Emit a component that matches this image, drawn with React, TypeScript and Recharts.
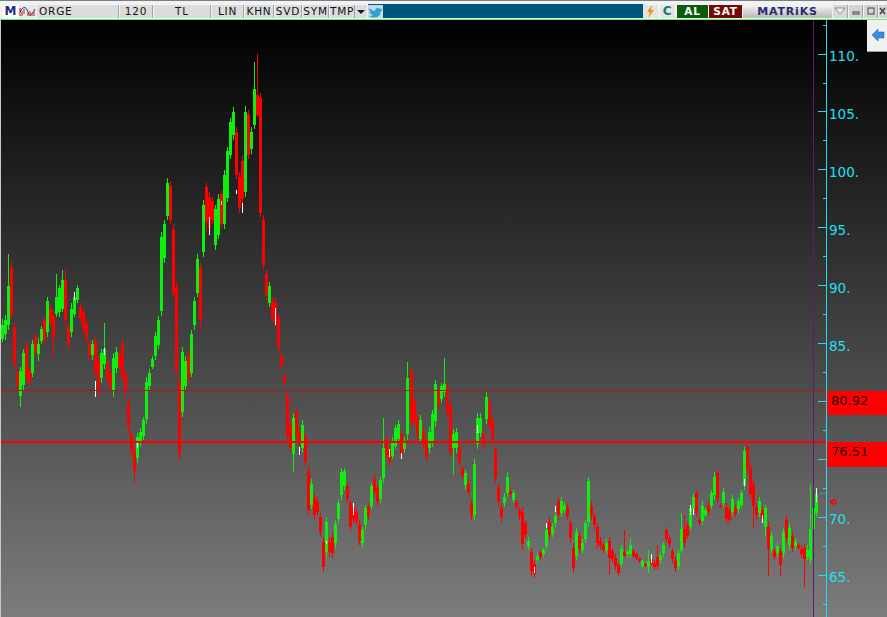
import React from 'react';
import { ComposedChart, Bar, Cell, XAxis, YAxis, ReferenceLine } from 'recharts';

// values, one entry per column of the price chart
const highs = [
  87.1, 87.5, 92.7, 92.3, 86.8, 82.8, 83.0, 84.5, 85.1, 83.0,
  85.3, 85.9, 85.5, 86.5, 87.4, 89.0, 88.4, 87.9, 91.0, 90.1,
  91.4, 91.4, 86.8, 88.5, 89.4, 90.1, 88.5, 88.1, 87.1, 85.3,
  85.3, 85.6, 83.9, 84.5, 86.8, 83.6, 82.8, 84.2, 84.7, 84.2,
  85.5, 82.8, 80.4, 77.6, 76.1, 77.3, 77.7, 78.7, 82.1, 82.8,
  83.9, 86.0, 87.4, 94.6, 95.7, 99.3, 99.0, 95.3, 90.3, 82.1,
  84.7, 83.9, 84.5, 86.2, 89.0, 92.7, 92.0, 97.4, 98.9, 98.1,
  97.7, 97.0, 97.9, 98.3, 100.0, 102.0, 104.5, 105.4, 103.7, 99.8,
  101.2, 105.5, 105.2, 103.7, 109.3, 110.0, 106.6, 96.1, 91.4, 90.3,
  89.0, 88.9, 87.6, 84.2, 82.5, 81.0, 78.4, 79.0, 79.5, 77.8,
  78.4, 77.3, 74.4, 73.3, 72.1, 71.8, 70.4, 68.3, 70.0, 68.3,
  68.7, 69.8, 71.5, 74.3, 74.3, 73.0, 71.5, 71.2, 70.8, 69.8,
  69.2, 71.1, 71.2, 73.0, 73.7, 72.8, 73.5, 78.6, 77.1, 76.1,
  76.9, 78.0, 78.4, 77.6, 76.9, 83.4, 83.0, 80.4, 79.0, 78.8,
  77.8, 76.9, 77.8, 79.3, 81.9, 81.3, 81.6, 83.8, 81.6, 79.9,
  77.6, 77.7, 76.4, 74.5, 74.1, 73.3, 71.5, 75.0, 79.0, 79.0,
  77.6, 80.8, 80.4, 78.7, 76.2, 73.0, 71.2, 72.1, 73.9, 72.6,
  72.4, 71.5, 70.9, 70.9, 69.8, 68.3, 67.4, 66.3, 66.9, 67.2,
  67.4, 69.2, 70.0, 69.5, 70.4, 71.8, 71.8, 71.2, 71.2, 69.8,
  67.8, 69.1, 68.7, 68.1, 69.8, 73.5, 71.4, 70.4, 69.5, 68.3,
  67.8, 68.1, 68.3, 67.4, 66.8, 66.1, 67.6, 68.9, 67.2, 68.1,
  67.3, 67.0, 66.6, 66.3, 66.1, 67.2, 66.8, 66.3, 67.6, 66.9,
  67.9, 69.2, 68.5, 67.4, 66.6, 67.2, 70.4, 70.2, 69.6, 71.1,
  72.1, 72.4, 70.0, 71.4, 70.8, 71.4, 72.4, 73.9, 74.1, 71.2,
  72.5, 71.2, 70.9, 71.9, 71.1, 71.7, 72.4, 76.1, 76.4, 74.7,
  73.3, 71.2, 71.8, 70.9, 71.1, 69.6, 68.7, 67.4, 67.8, 67.4,
  69.1, 70.2, 69.5, 68.7, 68.2, 67.8, 67.6, 67.8, 67.6, 72.8,
  71.1, 72.5,
];
const lows = [
  85.1, 85.3, 86.2, 87.1, 82.8, 80.8, 79.5, 81.0, 81.6, 81.3,
  82.1, 83.9, 83.5, 85.0, 85.0, 85.6, 86.5, 83.8, 87.3, 87.3,
  87.7, 86.5, 84.5, 85.6, 87.3, 88.5, 86.8, 85.9, 85.1, 83.6,
  83.6, 82.1, 80.4, 81.6, 82.8, 81.6, 80.8, 80.4, 82.5, 82.8,
  81.6, 80.4, 77.3, 75.2, 73.0, 74.7, 76.1, 76.7, 78.1, 81.0,
  82.8, 83.6, 84.5, 87.4, 92.0, 95.7, 95.3, 89.0, 82.1, 74.9,
  78.7, 81.0, 81.4, 82.1, 86.2, 89.0, 86.2, 92.5, 94.6, 94.6,
  95.3, 93.1, 94.0, 94.9, 94.9, 97.2, 100.9, 102.6, 99.2, 96.3,
  96.3, 97.7, 100.9, 101.4, 103.5, 104.6, 95.9, 91.4, 88.8, 88.2,
  86.8, 86.5, 84.2, 82.8, 81.3, 76.7, 75.6, 73.9, 76.7, 76.1,
  75.6, 74.4, 70.2, 70.7, 69.8, 70.1, 68.3, 65.3, 66.6, 66.6,
  66.5, 67.4, 69.5, 71.5, 72.4, 71.2, 68.8, 69.5, 69.3, 67.6,
  67.4, 68.9, 69.8, 70.7, 71.8, 70.9, 71.2, 73.0, 75.0, 74.4,
  75.0, 75.9, 76.4, 75.0, 75.6, 76.7, 77.8, 77.8, 76.7, 76.4,
  75.9, 74.8, 75.6, 76.1, 77.8, 79.3, 79.9, 80.4, 78.7, 75.2,
  73.7, 75.6, 74.4, 73.3, 72.4, 71.8, 69.8, 69.8, 75.9, 76.9,
  75.9, 78.1, 77.6, 76.4, 73.0, 70.9, 69.6, 70.9, 71.8, 71.8,
  71.2, 70.7, 69.8, 67.2, 68.1, 67.2, 64.9, 64.8, 66.1, 66.3,
  66.6, 67.2, 68.1, 68.3, 69.2, 69.8, 70.0, 70.4, 69.8, 67.8,
  65.2, 66.3, 66.9, 66.9, 67.8, 69.2, 69.8, 68.9, 67.4, 67.2,
  66.9, 66.9, 65.0, 66.1, 65.5, 64.9, 65.7, 66.6, 66.6, 66.5,
  66.5, 66.3, 66.1, 65.6, 65.7, 65.2, 65.8, 65.5, 65.5, 66.1,
  66.6, 67.8, 67.4, 66.1, 65.3, 65.5, 66.9, 67.4, 68.1, 68.9,
  70.4, 70.0, 69.3, 69.3, 70.0, 70.2, 70.7, 71.5, 71.2, 70.8,
  70.9, 69.5, 69.5, 70.2, 70.0, 70.4, 70.8, 72.4, 73.8, 71.5,
  69.1, 69.8, 70.0, 69.5, 68.3, 64.9, 66.9, 66.3, 66.6, 64.9,
  66.5, 67.8, 67.2, 67.0, 67.2, 67.2, 66.5, 64.0, 66.3, 65.9,
  68.7, 70.0,
];
const opens = [
  85.4, 85.8, 86.6, 91.5, 86.4, 82.5, 80.5, 81.4, 84.8, 82.7,
  82.5, 85.6, 84.1, 85.2, 87.0, 86.0, 88.0, 87.5, 87.6, 87.7,
  88.0, 90.5, 86.4, 86.0, 87.6, 88.8, 88.2, 87.7, 86.7, 85.0,
  84.0, 85.2, 83.5, 82.0, 83.2, 83.3, 82.4, 81.0, 82.9, 83.9,
  85.0, 82.4, 80.0, 77.2, 75.7, 75.1, 76.4, 77.0, 78.5, 81.3,
  83.0, 83.9, 84.9, 87.8, 92.4, 96.0, 98.6, 94.9, 89.9, 81.7,
  79.1, 81.3, 84.0, 82.5, 86.6, 89.4, 91.5, 92.9, 98.5, 97.7,
  97.3, 93.5, 94.4, 97.9, 95.3, 97.6, 101.3, 103.0, 103.3, 99.4,
  100.8, 98.1, 104.8, 101.8, 103.9, 106.5, 106.2, 95.7, 91.0, 88.5,
  88.6, 88.5, 87.2, 83.9, 82.2, 80.6, 78.0, 75.5, 79.1, 77.4,
  76.0, 76.9, 74.0, 71.1, 71.7, 71.4, 70.0, 67.9, 67.0, 67.9,
  68.3, 67.8, 69.9, 71.9, 72.7, 72.7, 71.2, 70.9, 70.5, 69.4,
  67.8, 69.3, 70.9, 71.0, 73.3, 72.5, 71.6, 73.4, 76.7, 75.8,
  75.3, 76.2, 76.8, 77.2, 75.9, 77.2, 82.6, 80.0, 78.6, 76.8,
  77.4, 76.5, 76.0, 76.5, 78.3, 81.0, 80.2, 80.8, 81.2, 79.5,
  76.0, 76.0, 76.1, 74.2, 72.8, 73.0, 71.2, 70.2, 76.3, 77.3,
  77.2, 78.5, 80.0, 78.3, 75.8, 72.6, 70.8, 71.2, 72.1, 72.3,
  71.5, 71.3, 70.6, 70.5, 69.5, 67.5, 67.0, 66.0, 66.3, 67.0,
  66.8, 67.5, 69.6, 68.6, 69.5, 71.4, 70.4, 70.6, 70.9, 69.5,
  67.4, 66.7, 68.4, 67.2, 68.1, 69.6, 71.0, 70.1, 69.2, 68.0,
  67.6, 67.2, 68.0, 67.1, 66.5, 65.9, 66.0, 67.0, 66.8, 66.8,
  67.1, 66.8, 66.5, 65.8, 66.0, 65.7, 66.4, 66.1, 66.6, 66.3,
  66.9, 68.9, 68.2, 67.1, 66.3, 65.8, 67.2, 69.0, 69.3, 69.2,
  70.7, 72.1, 69.8, 69.7, 70.2, 71.1, 71.0, 71.9, 73.8, 71.1,
  71.2, 70.9, 70.6, 70.5, 70.8, 70.7, 71.1, 72.8, 76.1, 74.3,
  72.9, 70.9, 70.4, 70.6, 69.2, 69.2, 67.3, 67.1, 66.9, 67.1,
  66.9, 69.8, 67.6, 68.4, 67.5, 67.6, 67.3, 67.4, 66.6, 66.3,
  69.0, 70.4,
];
const closes = [
  86.6, 87.0, 90.0, 87.5, 83.2, 81.3, 82.6, 84.2, 82.0, 81.7,
  85.0, 84.2, 85.0, 86.3, 85.4, 88.7, 86.9, 85.5, 89.0, 89.8,
  90.5, 87.0, 85.0, 88.0, 89.0, 89.8, 87.1, 86.3, 85.5, 84.0,
  85.0, 82.6, 81.0, 84.2, 84.5, 82.0, 81.2, 83.8, 84.3, 83.1,
  82.1, 80.9, 77.8, 75.7, 74.0, 76.9, 77.4, 78.4, 81.7, 82.5,
  83.7, 85.7, 87.0, 94.2, 95.3, 98.9, 95.7, 89.4, 82.6, 75.5,
  84.3, 83.5, 82.0, 85.8, 88.7, 92.3, 87.0, 97.0, 95.5, 95.0,
  95.7, 96.6, 97.5, 95.3, 99.6, 101.6, 104.1, 105.0, 99.6, 96.7,
  97.5, 105.0, 101.3, 103.3, 107.0, 104.7, 96.3, 91.8, 89.2, 90.0,
  87.1, 86.9, 84.6, 83.1, 81.6, 77.1, 76.0, 78.6, 77.1, 76.5,
  78.0, 74.8, 70.6, 72.9, 70.2, 70.5, 68.7, 65.7, 69.6, 67.0,
  66.9, 69.4, 71.2, 73.9, 74.0, 71.6, 69.2, 69.9, 69.6, 68.0,
  68.9, 70.8, 70.1, 72.7, 72.2, 71.3, 73.2, 76.0, 75.4, 74.8,
  76.6, 77.7, 78.1, 75.4, 76.6, 82.0, 78.2, 78.2, 77.1, 78.4,
  76.3, 75.2, 77.4, 78.9, 81.5, 79.7, 81.3, 81.5, 79.1, 75.6,
  77.2, 77.4, 74.8, 73.6, 73.8, 72.2, 70.2, 74.6, 78.6, 78.6,
  76.3, 80.4, 78.0, 76.8, 73.4, 71.3, 70.0, 71.8, 73.5, 72.0,
  72.1, 70.9, 70.1, 67.7, 68.5, 68.0, 65.4, 65.1, 66.7, 66.6,
  67.2, 68.9, 68.5, 69.2, 70.1, 70.2, 71.4, 71.0, 70.1, 68.2,
  65.6, 68.7, 67.3, 67.8, 69.5, 73.1, 70.2, 69.3, 67.8, 67.5,
  67.2, 67.8, 66.5, 66.4, 65.8, 65.2, 67.3, 66.7, 67.0, 67.6,
  66.7, 66.5, 66.2, 66.2, 65.8, 66.2, 66.0, 65.7, 65.8, 66.7,
  67.6, 68.1, 67.7, 66.4, 65.6, 66.9, 69.0, 67.8, 68.4, 70.8,
  71.8, 70.4, 69.5, 71.0, 70.6, 70.5, 72.1, 73.5, 71.6, 70.9,
  72.2, 69.9, 69.8, 71.6, 70.3, 71.4, 72.1, 75.7, 74.2, 72.0,
  71.0, 70.2, 71.4, 69.9, 70.8, 67.3, 68.4, 66.6, 67.5, 65.9,
  68.7, 68.2, 69.1, 67.4, 67.9, 67.4, 66.8, 66.4, 67.2, 69.0,
  70.8, 72.0,
];

// the thin white slivers where open and close coincide
const dojiIndex = [24, 31, 34, 69, 80, 78, 73, 91, 45, 99, 117, 129, 133, 108, 177, 181, 184, 158, 216, 229, 230, 247, 253, 271];
const dojiHigh = [89.5, 81.8, 84.6, 95.9, 97.1, 98.3, 97.3, 88.1, 76.5, 76.1, 71.2, 75.9, 75.6, 68.0, 65.7, 69.5, 71.0, 78.0, 66.8, 71.1, 70.7, 73.3, 70.2, 72.5];
const dojiLow = [88.8, 80.4, 84.0, 94.4, 96.3, 97.9, 97.0, 86.6, 76.0, 75.4, 70.2, 75.2, 75.0, 67.7, 65.2, 69.1, 70.5, 77.3, 66.1, 70.2, 70.2, 72.7, 69.5, 71.3];

const levelTop = 80.92;
const levelMain = 76.51;
const alertLevel = 71.33;
const lastLevel = 72.02;
const priceTicks = [112.5, 110, 107.5, 105, 102.5, 100, 97.5, 95, 92.5, 90, 87.5, 85, 82.5, 80, 77.5, 75, 72.5, 70, 67.5, 65, 62.5];
// these two sit under the red price boxes, so only their tick marks show
const hiddenLabels = [80, 75];

const UP = '#0cf00c';
const DOWN = '#ff0000';
const CYAN = '#20e0f0';
const FONT = '"DejaVu Sans", Verdana, sans-serif';

const rows = highs.map((h, i) => ({
  i,
  wick: [lows[i], h],
  body: [Math.min(opens[i], closes[i]), Math.max(opens[i], closes[i])],
  up: closes[i] >= opens[i],
  doji: dojiIndex.includes(i) ? [dojiLow[dojiIndex.indexOf(i)], dojiHigh[dojiIndex.indexOf(i)]] : undefined,
}));

const PriceTick = ({ x, y, payload }: any) => {
  const v = payload.value;
  if (v === levelTop || v === levelMain) {
    return (
      <g>
        <rect x={x + 1} y={y} width={62} height={v === levelTop ? 24 : 25} fill="#ff0000" />
        <text x={x + 5} y={y + 14} fontSize={13} fontFamily={FONT} fill="#200000">{v.toFixed(2)}</text>
      </g>
    );
  }
  if (v === alertLevel) {
    return (
      <g>
        <path d={`M${x + 3} ${y}l3 -2v4z`} fill="#ff0000" />
        <circle cx={x + 8} cy={y} r={2} fill="none" stroke="#ff0000" strokeWidth={1.5} />
      </g>
    );
  }
  if (v === lastLevel) return <line x1={x - 7} x2={x - 1} y1={y} y2={y} stroke="#5f8f5f" />;
  const major = v % 5 === 0;
  return (
    <g>
      <line x1={x - (major ? 8 : 3)} x2={x} y1={y} y2={y} stroke={CYAN} />
      {major && !hiddenLabels.includes(v) && (
        <text x={x + 3} y={y + 7} fontSize={13.5} fontFamily={FONT} fill={CYAN}>{v}.</text>
      )}
    </g>
  );
};

const Btn = ({ x, w, children, style }: any) => (
  <div
    style={{
      position: 'absolute', left: x, top: 5, width: w, height: 13, lineHeight: '13px', textAlign: 'center',
      background: '#dcdcdc', color: '#111', fontSize: 10.5, letterSpacing: 0.8, fontFamily: FONT,
      boxSizing: 'border-box', overflow: 'hidden', borderRight: '1px solid #a4a4a4', ...style,
    }}
  >
    {children}
  </div>
);

const Toolbar = () => (
  <div style={{ position: 'absolute', left: 0, top: 0, width: 887, height: 20, background: '#f2f2f2', overflow: 'hidden' }}>
    <div style={{ position: 'absolute', left: 0, top: 0, width: 887, height: 1, background: '#7a8088' }} />
    <div style={{ position: 'absolute', left: 368, top: 4, width: 275, height: 14, background: '#00557f' }} />
    <div style={{ position: 'absolute', left: 0, top: 19, width: 887, height: 1, background: '#66ee66' }} />
    <Btn x={3} w={15} style={{ background: '#fff', color: '#1f2a7a', fontWeight: 'bold', fontSize: 12, letterSpacing: 0, border: 'none' }}>M</Btn>
    <Btn x={19} w={17} style={{ background: '#e8e8ee', border: 'none' }}>
      <svg width="17" height="13">
        <path d="M1 11V3M3 11V6M5 9V4" stroke="#c02020" strokeWidth="1" />
        <path d="M1 7C4 1 7 1 9 7S13 9 16 4" stroke="#1a2a80" fill="none" />
        <path d="M9 11V8M11 11V6M13 11V8M15 11V6" stroke="#c02020" />
      </svg>
    </Btn>
    <Btn x={37} w={82} style={{ textAlign: 'left', paddingLeft: 2 }}>ORGE</Btn>
    <Btn x={120} w={33}>120</Btn>
    <Btn x={154} w={57}>TL</Btn>
    <Btn x={212} w={32}>LIN</Btn>
    <Btn x={245} w={29}>KHN</Btn>
    <Btn x={275} w={27}>SVD</Btn>
    <Btn x={303} w={26}>SYM</Btn>
    <Btn x={330} w={25}>TMP</Btn>
    <Btn x={355} w={12} style={{ border: 'none' }}>
      <svg width="12" height="13"><path d="M2 5h8l-4 4z" fill="#14143c" /></svg>
    </Btn>
    <Btn x={368} w={15} style={{ background: '#c8d8e0', border: 'none' }}>
      <svg width="15" height="13" viewBox="0 0 15 13">
        <path d="M1 3c3 2 4 3 6 3 0-3 3-4 5-2l2-1-1 2 1.500 0-2 1.500c0 4-3 6-6 6-2 0-4-.5-5.500-1.500 2 0 3-.5 4-1.500-2 0-3-1-3.500-2.500h1.500C2 7 1.500 5.500 1 3z" fill="#2ea0d8" />
      </svg>
    </Btn>
    <Btn x={643} w={15} style={{ background: '#e4e4e4', border: 'none' }}>
      <svg width="15" height="13"><path d="M9 0L4 7h3l-2 6 6-8H8z" fill="#f09010" /></svg>
    </Btn>
    <Btn x={660} w={15} style={{ background: '#e4e4e4', color: '#10806a', fontWeight: 'bold', fontSize: 12, border: 'none' }}>C</Btn>
    <Btn x={677} w={31} style={{ background: '#0c5a0c', color: '#fff', fontWeight: 'bold', border: 'none' }}>AL</Btn>
    <Btn x={709} w={33} style={{ background: '#760808', color: '#fff', fontWeight: 'bold', border: 'none' }}>SAT</Btn>
    <Btn x={743} w={89} style={{ background: 'linear-gradient(#f4f4f4,#b8b8b8)', color: '#2a2a70', fontWeight: 'bold', fontSize: 11, letterSpacing: 0.8, border: 'none' }}>MATRiKS</Btn>
    <Btn x={833} w={15} style={{ background: '#d8d8d8' }}>
      <svg width="15" height="13"><path d="M2 3h10l-5 6z" fill="#f4f4f4" stroke="#8a8a8a" /></svg>
    </Btn>
    <Btn x={849} w={14} style={{ background: '#d4d4d4' }}>
      <svg width="14" height="13"><rect x="4" y="7" width="6" height="2" fill="none" stroke="#444" /></svg>
    </Btn>
    <Btn x={864} w={14} style={{ background: '#d4d4d4' }}>
      <svg width="14" height="13"><rect x="4" y="3" width="6" height="6" fill="none" stroke="#444" /></svg>
    </Btn>
    <Btn x={879} w={8} style={{ background: '#d4d4d4', border: 'none' }}>
      <svg width="8" height="13"><path d="M1 3l5 6M6 3l-5 6" stroke="#444" strokeWidth="1.500" /></svg>
    </Btn>
  </div>
);

export default function App() {
  return (
    <div
      style={{
        position: 'absolute', left: 0, top: 0, width: 887, height: 617, overflow: 'hidden',
        background: 'linear-gradient(#000000 20px, #7c7c7c 617px)',
      }}
    >
      <div style={{ position: 'absolute', left: 0, top: 20, width: 1, height: 597, background: '#c8c8c8' }} />
      <div style={{ position: 'absolute', left: 0, top: 0, shapeRendering: 'crispEdges' } as React.CSSProperties}>
        <ComposedChart width={887} height={617} data={rows} margin={{ top: 20, right: 0, bottom: 0, left: 1 }} barCategoryGap={0}>
          <XAxis xAxisId="wick" dataKey="i" hide padding={{ left: 0, right: 8 }} />
          <XAxis xAxisId="body" dataKey="i" hide padding={{ left: 0, right: 8 }} />
          <XAxis xAxisId="doji" dataKey="i" hide padding={{ left: 0, right: 8 }} />
          <YAxis
            orientation="right"
            domain={[61.4, 112.94]}
            ticks={[...priceTicks, levelTop, levelMain, alertLevel, lastLevel]}
            interval={0}
            width={61}
            tickSize={0}
            tickMargin={0}
            tickLine={false}
            axisLine={{ stroke: CYAN }}
            tick={<PriceTick />}
            allowDataOverflow
          />
          <Bar dataKey="wick" xAxisId="wick" barSize={1} isAnimationActive={false}>
            {rows.map(r => <Cell key={r.i} fill={r.up ? UP : DOWN} />)}
          </Bar>
          <Bar dataKey="body" xAxisId="body" barSize={3} isAnimationActive={false}>
            {rows.map(r => <Cell key={r.i} fill={r.up ? UP : DOWN} />)}
          </Bar>
          <Bar dataKey="doji" xAxisId="doji" barSize={1} fill="#ffffff" isAnimationActive={false} />
          <ReferenceLine xAxisId="body" y={levelTop} stroke="#a81a1a" strokeWidth={1} />
          <ReferenceLine xAxisId="body" y={levelMain} stroke="#ff0000" strokeWidth={2} />
          <ReferenceLine xAxisId="body" x={270} stroke="#5c1a70" strokeWidth={1} />
        </ComposedChart>
      </div>
      <Toolbar />
      {/* side arrow tab */}
      <div style={{ position: 'absolute', left: 867, top: 20, width: 20, height: 32, background: '#f0f0f0', borderBottom: '1px solid #a0a0a0', boxSizing: 'border-box' }}>
        <svg width="20" height="31">
          <path d="M5 15l6 -6v3h6v6h-6v3z" fill="#3a8ee0" stroke="#1a5aa8" strokeWidth="0.500" />
        </svg>
      </div>
    </div>
  );
}
